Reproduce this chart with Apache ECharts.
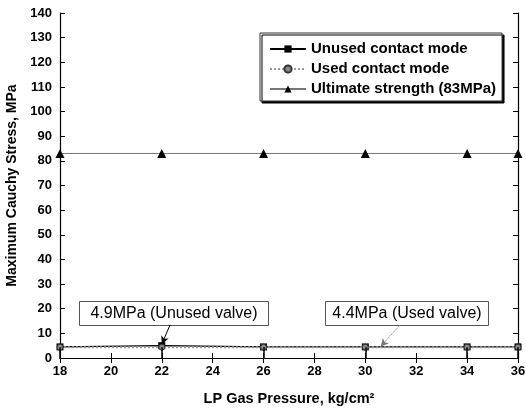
<!DOCTYPE html>
<html>
<head>
<meta charset="utf-8">
<script src="https://cdn.jsdelivr.net/npm/echarts@6/dist/echarts.min.js"></script>
<style>html,body{margin:0;padding:0;background:#fff}#c{width:526px;height:412px}</style>
</head>
<body>
<div id="c"></div>
<script>
var pressure = [18, 22, 26, 30, 34, 36];
var unusedStress = [4.5, 5.0, 4.5, 4.5, 4.5, 4.5];
var usedStress = [4.4, 4.4, 4.4, 4.4, 4.4, 4.4];
var ultimateX = [18, 22, 26, 30, 34, 36];
var ultimateStress = [83, 83, 83, 83, 83, 83];
var dropX = [18, 22, 26, 30, 34, 36];
var seriesNames = ['Unused contact mode', 'Used contact mode', 'Ultimate strength (83MPa)'];
var annUnused = '4.9MPa (Unused valve)';
var annUsed = '4.4MPa (Used valve)';

var FONT = '"Liberation Sans", Arial, sans-serif';

function pairs(xs, ys) { return xs.map(function (x, i) { return [x, ys[i]]; }); }

var chart = echarts.init(document.getElementById('c'), null, { renderer: 'canvas' });
var axisCommon = {
  axisLine: { show: true, lineStyle: { color: '#000', width: 1.2 } },
  axisTick: { show: true, inside: true, length: 5, lineStyle: { color: '#000' } },
  splitLine: { show: false }
};
chart.setOption({
  animation: false,
  backgroundColor: '#fff',
  grid: { left: 60, right: 8, top: 13, bottom: 54, containLabel: false, outerBoundsMode: 'none' },
  xAxis: [
    Object.assign({
      type: 'value', min: 18, max: 36, interval: 2, position: 'bottom',
      name: 'LP Gas Pressure, kg/cm²', nameLocation: 'middle', nameGap: 33,
      nameTextStyle: { fontFamily: FONT, fontWeight: 'bold', fontSize: 14.5, color: '#000' },
      axisLabel: { fontFamily: FONT, fontSize: 13, fontWeight: 'bold', color: '#000', margin: 7 }
    }, axisCommon),
    Object.assign({
      type: 'value', min: 18, max: 36, interval: 2, position: 'top',
      axisLabel: { show: false }
    }, axisCommon)
  ],
  yAxis: [
    Object.assign({
      type: 'value', min: 0, max: 140, interval: 10, position: 'left',
      name: 'Maximum Cauchy Stress, MPa', nameLocation: 'middle', nameGap: 35,
      nameTextStyle: { fontFamily: FONT, fontWeight: 'bold', fontSize: 14, color: '#000' },
      axisLabel: { fontFamily: FONT, fontSize: 13, fontWeight: 'bold', color: '#000', margin: 8 }
    }, axisCommon),
    Object.assign({
      type: 'value', min: 0, max: 140, interval: 10, position: 'right',
      axisLabel: { show: false }
    }, axisCommon)
  ],
  legend: {
    orient: 'vertical', left: 260, top: 33,
    data: seriesNames,
    backgroundColor: '#fff', borderColor: '#333', borderWidth: 1,
    shadowColor: '#000', shadowOffsetX: 2, shadowOffsetY: 2, shadowBlur: 0,
    padding: [8, 6, 4, 9], itemGap: 4, itemWidth: 36, itemHeight: 9,
    textStyle: { fontFamily: FONT, fontWeight: 'bold', fontSize: 15, color: '#000', lineHeight: 16 }
  },
  series: [
    {
      name: seriesNames[0], type: 'line', data: pairs(pressure, unusedStress),
      symbol: 'rect', symbolSize: 7, color: '#000',
      lineStyle: { color: '#000', width: 1.2 }, itemStyle: { color: '#000' },
      z: 3,
      markLine: {
        silent: true, symbol: 'none', animation: false,
        label: { show: false },
        lineStyle: { color: '#000', width: 1.5, type: 'solid' },
        data: dropX.map(function (x, i) {
          return [{ coord: [x, 0] }, { coord: [x, usedStress[i]] }];
        })
      }
    },
    {
      name: seriesNames[1], type: 'line', data: pairs(pressure, usedStress),
      symbol: 'circle', symbolSize: 6, color: '#555',
      lineStyle: { color: '#999', width: 2, type: 'dotted' },
      itemStyle: { color: '#888', borderColor: '#333', borderWidth: 1 },
      z: 4
    },
    {
      name: seriesNames[2], type: 'line', data: pairs(ultimateX, ultimateStress),
      symbol: 'triangle', symbolSize: 9, color: '#000',
      lineStyle: { color: '#777', width: 1, type: 'solid' },
      itemStyle: { color: '#000' },
      z: 3
    },
    {
      name: 'annotations', type: 'line', data: [], silent: true,
      markLine: {
        silent: true, symbol: ['none', 'arrow'], symbolSize: [6, 8],
        label: { show: false },
        data: [
          [{ x: 170, y: 325, lineStyle: { color: '#000', width: 1, type: 'solid' } }, { coord: [22, 5.6] }],
          [{ x: 400, y: 325, lineStyle: { color: '#777', width: 1, type: 'dotted' } }, { coord: [30.6, 4.6] }]
        ]
      }
    }
  ],
  graphic: [
    {
      type: 'group', left: 79, top: 301, children: [
        { type: 'rect', shape: { x: 0, y: 0, width: 189, height: 24 }, style: { fill: '#fff', stroke: '#555', lineWidth: 1 } },
        { type: 'text', x: 94.5, y: 12, style: { text: annUnused, font: '16px ' + FONT, fill: '#000', align: 'center', verticalAlign: 'middle' } }
      ]
    },
    {
      type: 'group', left: 325, top: 301, children: [
        { type: 'rect', shape: { x: 0, y: 0, width: 163, height: 24 }, style: { fill: '#fff', stroke: '#555', lineWidth: 1 } },
        { type: 'text', x: 81.5, y: 12, style: { text: annUsed, font: '16px ' + FONT, fill: '#000', align: 'center', verticalAlign: 'middle' } }
      ]
    }
  ]
});
</script>
</body>
</html>
